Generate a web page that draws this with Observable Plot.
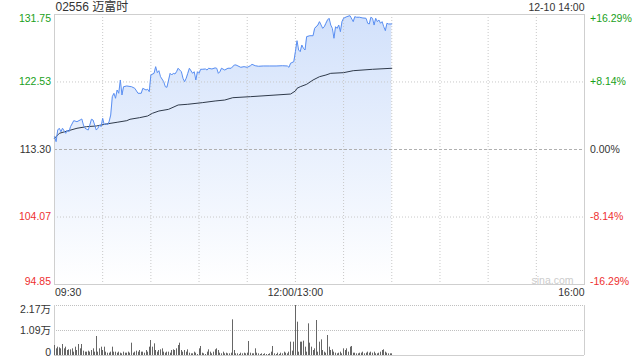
<!DOCTYPE html>
<html>
<head>
<meta charset="utf-8">
<script src="https://cdn.jsdelivr.net/npm/d3@7"></script>
<script src="https://cdn.jsdelivr.net/npm/@observablehq/plot@0.6"></script>
<style>
  html, body { margin: 0; padding: 0; background: #fff; }
  #chart { width: 640px; height: 360px; overflow: hidden; }
  #chart svg { display: block; }
</style>
</head>
<body>
<div id="chart"></div>
<script>
// ---------------- data ----------------
const titleText = "02556 迈富时";
const stampText = "12-10 14:00";
const prevClose = 113.30;

const yTicks = [131.75, 122.53, 113.30, 104.07, 94.85];
const yTickLabels = ["131.75", "122.53", "113.30", "104.07", "94.85"];
const pctLabels = ["+16.29%", "+8.14%", "0.00%", "-8.14%", "-16.29%"];
const xTickTimes = ["09:30", "12:00", "16:00"];
const xTickLabels = ["09:30", "12:00/13:00", "16:00"];
const volTicks = [21700, 10850, 0];
const volTickLabels = ["2.17万", "1.09万", "0"];

const priceTimes = [
  "09:30","09:31","09:32","09:33","09:34","09:35","09:37","09:38","09:39","09:40",
  "09:42","09:44","09:46","09:47","09:48","09:49","09:51","09:52","09:53","09:54",
  "09:55","09:56","09:57","09:58","09:59","10:00","10:01","10:02","10:03","10:04",
  "10:05","10:06","10:07","10:08","10:09","10:10","10:11","10:12","10:13","10:15",
  "10:18","10:20","10:22","10:24","10:25","10:27","10:28","10:29","10:30","10:32",
  "10:33","10:34","10:35","10:36","10:38","10:39","10:40","10:42","10:43","10:44",
  "10:45","10:46","10:47","10:48","10:49","10:50","10:51","10:52","10:53","10:54",
  "10:56","10:57","10:58","10:59","11:00","11:01","11:02","11:04","11:05","11:06",
  "11:08","11:10","11:11","11:12","11:13","11:14","11:16","11:18","11:20","11:22",
  "11:23","11:26","11:28","11:30","11:32","11:33","11:35","11:37","11:40","11:44",
  "11:48","11:52","11:55","11:56","11:57","11:59","12:00",
  "13:01","13:02","13:03","13:04","13:05","13:06","13:07","13:09","13:11","13:12",
  "13:14","13:15","13:16","13:17","13:18","13:19","13:20","13:21","13:22","13:23",
  "13:24","13:25","13:26","13:27","13:28","13:29","13:30","13:32","13:34","13:36",
  "13:37","13:38","13:40","13:42","13:44","13:45","13:46","13:47","13:48","13:49",
  "13:50","13:51","13:52","13:53","13:54","13:55","13:56","13:57","13:58","14:00"
];
const prices = [
  115.05,114.37,115.96,116.20,115.73,116.20,115.51,115.96,115.73,116.42,
  117.24,117.10,117.33,117.47,116.65,116.20,115.96,116.65,117.43,117.33,
  116.65,115.96,116.20,116.65,116.42,117.56,116.65,116.88,116.65,117.10,
  118.01,120.52,120.98,120.30,121.43,120.98,122.80,120.75,121.88,121.98,
  121.88,121.66,120.98,120.98,121.66,121.43,121.53,121.20,123.48,123.71,
  124.62,123.80,124.07,123.25,122.57,121.88,121.80,123.71,123.48,123.71,
  123.62,123.93,124.40,124.16,123.93,123.03,122.57,123.03,123.71,124.40,
  123.71,123.93,122.80,123.93,123.71,124.26,124.26,124.30,124.16,124.40,
  124.30,124.45,124.40,123.71,123.93,124.40,124.16,124.40,124.40,124.85,
  124.85,124.53,124.62,124.53,124.75,124.94,124.75,124.67,124.71,124.71,
  124.71,124.75,124.71,124.53,125.08,125.30,126.67,
  128.17,126.90,126.67,127.58,127.13,126.90,128.72,128.85,128.85,129.86,
  130.31,130.77,130.31,129.86,130.08,130.55,131.00,131.23,130.31,129.86,
  128.50,130.08,129.86,130.31,129.40,130.77,131.23,131.45,131.59,130.77,
  131.45,131.37,131.37,131.27,131.23,130.55,130.45,131.37,131.23,130.31,
  131.23,130.77,131.00,130.55,130.77,130.08,129.54,130.55,130.45,130.45
];

const avgTimes = [
  "09:30","09:33","09:38","09:44","09:50","09:56","10:02","10:09","10:15","10:17",
  "10:23","10:28","10:31","10:35","10:41","10:47","10:53","11:02","11:10","11:16",
  "11:21","11:32","11:57","12:00","13:01","13:03","13:07","13:11","13:15","13:19",
  "13:22","13:30","13:36","13:48","14:00"
];
const avgPrices = [
  114.83,115.51,115.83,116.20,116.42,116.51,116.78,117.02,117.24,117.43,
  117.65,117.88,118.25,118.56,118.79,119.38,119.48,119.70,119.93,120.06,
  120.38,120.52,120.88,121.30,121.66,121.88,122.21,122.80,123.25,123.48,
  123.71,123.80,124.07,124.26,124.40
];

// per-minute volume, 09:30 .. 12:00
const volMorning = [
  4340,2890,3620,3330,2890,4770,2890,3620,2170,2460,2460,2890,1450,
  3620,2170,4770,2890,4770,1880,1450,1450,1880,1450,2170,2890,
  1450,8250,1450,2890,3620,2170,3620,1450,1010,1010,1450,3620,
  1450,1450,1010,1450,1010,720,1450,1010,1010,
  1450,1010,5350,1010,1450,1880,1450,2170,1450,1450,1010,2170,
  1450,3620,6510,3620,5060,2170,1450,2170,2460,2890,1450,1010,1450,1450,
  1010,2170,2460,2170,2890,4340,5350,2170,1450,2170,1450,2460,
  1010,720,720,1450,1010,430,2890,3910,1010,720,430,1450,2460,1450,
  720,1450,2460,2890,2170,1010,720,1450,720,1010,720,720,1010,
  15480,2170,720,720,430,1010,720,1010,720,1010,6080,1010,720,720,2890,1010,720,430,720,
  430,720,430,430,720,1450,3910,720,430,1010,430,1010,720,1450,1010,720,1450,5790,1880,5790,21700
];
// per-minute volume, 13:01 .. 14:00
const volAfternoon = [
  14470,1450,5790,5790,6220,3620,1450,13740,5350,3620,2170,2890,15190,
  1450,5790,6800,2170,1450,1010,8680,3620,2170,2460,1450,1010,720,1010,1450,720,
  2890,2170,2890,1450,3620,3910,1010,1010,
  720,720,1010,1010,1450,720,1010,1450,1010,1450,1010,1450,720,720,1010,1450,
  2170,2460,1450,1010,720,720,720
];

// ---------------- helpers ----------------
function idx(t) {
  const [h, m] = t.split(":").map(Number);
  const mm = h * 60 + m;
  return mm <= 720 ? mm - 570 : mm - 780 + 150;
}
const priceData = priceTimes.map((t, k) => ({i: idx(t), p: prices[k]}));
const avgData = avgTimes.map((t, k) => ({i: idx(t), p: avgPrices[k]}));
const volData = [
  ...volMorning.map((v, k) => ({i: k, v})),
  ...volAfternoon.map((v, k) => ({i: 151 + k, v}))
];
const gridX = d3.range(30, 330, 30);

const FONT = "'Liberation Sans', Arial, 'Noto Sans CJK SC', sans-serif";
const GREEN = "#1a9f1a", RED = "#ee3030", DARK = "#333";
const tickColors = [GREEN, GREEN, DARK, RED, RED];
const tickAnchors = ["top", "middle", "middle", "middle", "bottom"];
const yMin = yTicks[yTicks.length - 1];

// ---------------- price panel ----------------
const priceMarks = [
  Plot.areaY(priceData, {x: "i", y1: yMin, y2: "p", fill: "url(#priceGrad)"}),
  Plot.ruleX(gridX, {stroke: "#c8c8c8", strokeDasharray: "1,2"}),
  Plot.ruleY([yTicks[1], yTicks[3]], {stroke: "#c8c8c8", strokeDasharray: "1,2"}),
  Plot.ruleY([prevClose], {stroke: "#b0b0b0", strokeDasharray: "3,2"}),
  Plot.frame({stroke: "#cfcfcf"}),
  Plot.line(avgData, {x: "i", y: "p", stroke: "#2f3a4a", strokeWidth: 1}),
  Plot.line(priceData, {x: "i", y: "p", stroke: "#5a8ff2", strokeWidth: 1}),
  Plot.text([titleText], {text: d => d, frameAnchor: "top-left", dx: 1, dy: -7,
    textAnchor: "start", lineAnchor: "middle", fontSize: 12, fill: DARK}),
  Plot.text([stampText], {text: d => d, frameAnchor: "top-right", dy: -7,
    textAnchor: "end", lineAnchor: "middle", fontSize: 10.5, fill: DARK}),
  Plot.text(["sina.com"], {text: d => d, frameAnchor: "bottom-right", dx: -11, dy: -1,
    textAnchor: "end", lineAnchor: "bottom", fontSize: 10.5, fill: "#cccccc"})
];
yTicks.forEach((v, k) => {
  priceMarks.push(Plot.text([v], {y: d => d, text: () => yTickLabels[k], frameAnchor: "left",
    dx: -3.5, textAnchor: "end", lineAnchor: tickAnchors[k], fontSize: 10.5, fill: tickColors[k]}));
  priceMarks.push(Plot.text([v], {y: d => d, text: () => pctLabels[k], frameAnchor: "right",
    dx: 5.5, textAnchor: "start", lineAnchor: tickAnchors[k], fontSize: 10.5, fill: tickColors[k]}));
});
const xAnchors = ["start", "middle", "end"];
xTickTimes.forEach((t, k) => {
  priceMarks.push(Plot.text([idx(t)], {x: d => d, text: () => xTickLabels[k], frameAnchor: "bottom",
    dy: 8.5, dx: k === 0 ? 0.5 : 0, textAnchor: xAnchors[k], lineAnchor: "middle", fontSize: 10.5, fill: DARK}));
});

const priceChart = Plot.plot({
  width: 640, height: 300,
  marginLeft: 54, marginRight: 56, marginTop: 14, marginBottom: 16,
  x: {domain: [0, 330], axis: null},
  y: {domain: [yMin, yTicks[0]], axis: null},
  style: {fontFamily: FONT, fontSize: "10.5px", background: "white", overflow: "visible"},
  marks: priceMarks
});
const g = d3.select(priceChart).insert("defs", ":first-child")
  .append("linearGradient").attr("id", "priceGrad")
  .attr("gradientUnits", "userSpaceOnUse")
  .attr("x1", 0).attr("x2", 0).attr("y1", 14).attr("y2", 284);
g.append("stop").attr("offset", 0).attr("stop-color", "#d2e1fb");
g.append("stop").attr("offset", 1).attr("stop-color", "#ffffff");

// ---------------- volume panel ----------------
const volMarks = [
  Plot.ruleY([volTicks[0], volTicks[1]], {stroke: "#c0c0c0", strokeDasharray: "1,1"}),
  Plot.ruleY([0], {stroke: "#cfcfcf"}),
  Plot.ruleX([0, 330], {y1: 0, y2: volTicks[0], stroke: "#cfcfcf"}),
  Plot.ruleX(volData, {x: "i", y1: 0, y2: "v", stroke: "#666666", strokeWidth: 1})
];
const volAnchors = ["top", "middle", "bottom"];
volTicks.forEach((v, k) => {
  volMarks.push(Plot.text([v], {y: d => d, text: () => volTickLabels[k], frameAnchor: "left",
    dx: -3.5, textAnchor: "end", lineAnchor: volAnchors[k], fontSize: 10.5, fill: DARK}));
});
const volChart = Plot.plot({
  width: 640, height: 60,
  marginLeft: 54, marginRight: 56, marginTop: 5, marginBottom: 5,
  x: {domain: [0, 330], axis: null, round: true},
  y: {domain: [0, volTicks[0]], axis: null},
  style: {fontFamily: FONT, fontSize: "10.5px", background: "white", overflow: "visible"},
  marks: volMarks
});

const root = document.getElementById("chart");
root.appendChild(priceChart);
root.appendChild(volChart);
</script>
</body>
</html>
